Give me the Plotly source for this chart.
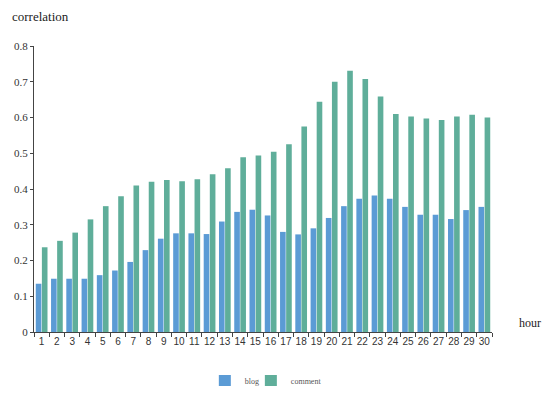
import plotly.graph_objects as go

hours = [str(h) for h in range(1, 31)]
blog = [0.135, 0.149, 0.149, 0.149, 0.159, 0.172, 0.196, 0.229, 0.261, 0.276,
        0.276, 0.274, 0.309, 0.336, 0.342, 0.326, 0.280, 0.273, 0.290, 0.319,
        0.352, 0.373, 0.382, 0.373, 0.350, 0.328, 0.328, 0.316, 0.341, 0.350]
comment = [0.237, 0.255, 0.278, 0.315, 0.352, 0.380, 0.410, 0.420, 0.425, 0.422,
           0.427, 0.441, 0.458, 0.489, 0.494, 0.504, 0.525, 0.575, 0.644, 0.700,
           0.731, 0.708, 0.659, 0.610, 0.603, 0.597, 0.593, 0.603, 0.608, 0.600]
y_ticks = [0, 0.1, 0.2, 0.3, 0.4, 0.5, 0.6, 0.7, 0.8]
y_labels = ["0", "0.1", "0.2", "0.3", "0.4", "0.5", "0.6", "0.7", "0.8"]

serif = "Times New Roman, Liberation Serif, serif"
sans = "Liberation Sans, Arial, sans-serif"

fig = go.Figure()
fig.add_trace(go.Bar(x=hours, y=blog, name="blog", marker_color="#5b9bd5",
                     marker_line_width=0, legend="legend"))
fig.add_trace(go.Bar(x=hours, y=comment, name="comment", marker_color="#5fae9a",
                     marker_line_width=0, legend="legend2"))

legend_common = dict(orientation="h", yref="paper", y=-0.171, yanchor="middle",
                     xanchor="left", font=dict(family=serif, size=8, color="#555"),
                     itemwidth=30, itemsizing="constant", bgcolor="rgba(0,0,0,0)")

fig.update_layout(
    width=534, height=378,
    margin=dict(l=26, r=50, t=38, b=54, autoexpand=False),
    paper_bgcolor="white", plot_bgcolor="white",
    barmode="group", bargap=0.2, bargroupgap=0.08,
    showlegend=True,
    legend=dict(x=0.373, **legend_common),
    legend2=dict(x=0.4735, **legend_common),
    xaxis=dict(type="category", showline=True, linecolor="#444", linewidth=1,
               ticks="outside", tickson="boundaries", ticklen=4, tickcolor="#444",
               tickangle=0, automargin=False,
               tickfont=dict(family=sans, size=10, color="#333"),
               showgrid=False, zeroline=False),
    yaxis=dict(range=[0, 0.8], tickvals=y_ticks, ticktext=y_labels,
               showline=True, linecolor="#444", linewidth=1,
               ticks="outside", ticklen=3, tickcolor="#444", automargin=False,
               tickfont=dict(family=serif, size=11, color="#333"),
               showgrid=False, zeroline=False),
    annotations=[
        dict(text="correlation", xref="paper", yref="paper", x=-0.05, y=1.072,
             xanchor="left", yanchor="bottom", showarrow=False, borderpad=0,
             font=dict(family=serif, size=13, color="#222")),
        dict(text="hour", xref="paper", yref="paper", x=1.0, xshift=51, y=0.0,
             xanchor="right", yanchor="bottom", showarrow=False,
             font=dict(family=serif, size=12, color="#222")),
    ],
)

fig.write_html("out.html")
